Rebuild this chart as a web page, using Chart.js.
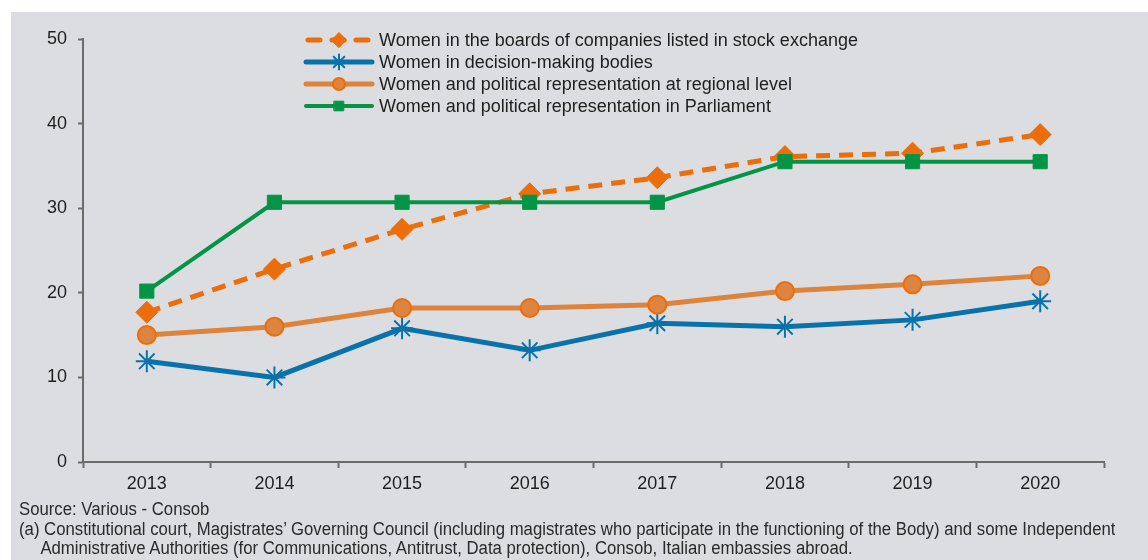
<!DOCTYPE html>
<html>
<head>
<meta charset="utf-8">
<script src="https://cdn.jsdelivr.net/npm/chart.js@4/dist/chart.umd.min.js"></script>
<style>
  html, body { margin: 0; padding: 0; background: #ffffff; }
  #panel {
    position: absolute; left: 11px; top: 12px; width: 1137px; height: 548px;
    background: #dcdde0; overflow: hidden;
  }
  #chart-wrap { position: absolute; left: -11px; top: -12px; width: 1148px; height: 500px; }
  #notes {
    position: absolute; left: 8px; top: 488px;
    font-family: "Liberation Sans", Arial, sans-serif;
    font-size: 18px; line-height: 19.5px; color: #2a2a2a;
    white-space: nowrap;
    transform: scaleX(0.93); transform-origin: 0 0;
  }
  #notes .indent { padding-left: 23px; }
</style>
</head>
<body>
<div id="panel">
  <div id="chart-wrap"><canvas id="women-chart" width="1148" height="500"></canvas></div>
  <div id="notes">
    <div>Source: Various - Consob</div>
    <div>(a) Constitutional court, Magistrates’ Governing Council (including magistrates who participate in the functioning of the Body) and some Independent</div>
    <div class="indent">Administrative Authorities (for Communications, Antitrust, Data protection), Consob, Italian embassies abroad.</div>
  </div>
</div>
<script>
const years = ["2013", "2014", "2015", "2016", "2017", "2018", "2019", "2020"];
const yTicks = [0, 10, 20, 30, 40, 50];

const boardsListed = [17.7, 22.8, 27.5, 31.7, 33.6, 36.1, 36.5, 38.7];
const decisionBodies = [11.9, 10.0, 15.8, 13.2, 16.4, 16.0, 16.8, 19.0];
const regionalLevel = [15.0, 16.0, 18.2, 18.2, 18.6, 20.2, 21.0, 22.0];
const parliament = [20.2, 30.7, 30.7, 30.7, 30.7, 35.5, 35.5, 35.5];

const seriesNames = [
  "Women in the boards of companies listed in stock exchange",
  "Women in decision-making bodies",
  "Women and political representation at regional level",
  "Women and political representation in Parliament"
];

const textFont = "'Liberation Sans', Arial, sans-serif";
const axisColor = "#6b6b6b";

// Legend drawn inside the plot, each entry a short line with its marker
const lineLegend = {
  id: "lineLegend",
  afterDraw(chart) {
    const ctx = chart.ctx;
    const x0 = 303, x1 = 375, textX = 379;
    const rows = [40, 62, 84, 106];
    chart.data.datasets.forEach((ds, i) => {
      const y = rows[i];
      ctx.save();
      ctx.strokeStyle = ds.borderColor;
      ctx.lineWidth = ds.borderWidth;
      ctx.lineCap = "round";
      ctx.setLineDash(ds.borderDash ? [12, 12] : []);
      ctx.lineDashOffset = ds.borderDash ? -2 : 0;
      ctx.beginPath();
      ctx.moveTo(x0 + 3, y);
      ctx.lineTo(x1 - 3, y);
      ctx.stroke();
      ctx.setLineDash([]);
      ctx.fillStyle = ds.pointBackgroundColor;
      ctx.strokeStyle = ds.pointBorderColor;
      ctx.lineWidth = ds.pointBorderWidth;
      Chart.helpers.drawPoint(ctx, {
        pointStyle: ds.pointStyle,
        radius: ds.pointRadius * 0.68,
        borderWidth: ds.pointBorderWidth,
        rotation: 0
      }, (x0 + x1) / 2, y);
      ctx.fillStyle = "#1e1e1e";
      ctx.font = "18px " + textFont;
      ctx.textBaseline = "middle";
      ctx.textAlign = "left";
      ctx.fillText(seriesNames[i], textX, y + 1);
      ctx.restore();
    });
  }
};

const ctx = document.getElementById("women-chart").getContext("2d");
const womenChart = new Chart(ctx, {
  type: "line",
  data: {
    labels: years,
    datasets: [
      {
        label: seriesNames[0],
        data: boardsListed,
        borderColor: "#ec6d0b",
        backgroundColor: "#ec6d0b",
        borderWidth: 5,
        borderDash: [14, 9],
        pointStyle: "rectRot",
        pointRadius: 11,
        pointBorderWidth: 1,
        pointBackgroundColor: "#ec6d0b",
        pointBorderColor: "#ec6d0b",
        order: 3
      },
      {
        label: seriesNames[1],
        data: decisionBodies,
        borderColor: "#0a72aa",
        backgroundColor: "#0a72aa",
        borderWidth: 5,
        pointStyle: "star",
        pointRadius: 11,
        pointBorderWidth: 2,
        pointBackgroundColor: "#0a72aa",
        pointBorderColor: "#0a72aa",
        order: 2
      },
      {
        label: seriesNames[2],
        data: regionalLevel,
        borderColor: "#de833b",
        backgroundColor: "#de833b",
        borderWidth: 5,
        pointStyle: "circle",
        pointRadius: 9,
        pointBorderWidth: 2,
        pointBackgroundColor: "#dd8440",
        pointBorderColor: "#ec6d0b",
        order: 1
      },
      {
        label: seriesNames[3],
        data: parliament,
        borderColor: "#049446",
        backgroundColor: "#049446",
        borderWidth: 4,
        pointStyle: "rect",
        pointRadius: 10,
        pointBorderWidth: 1,
        pointBackgroundColor: "#049446",
        pointBorderColor: "#049446",
        order: 0
      }
    ]
  },
  options: {
    responsive: false,
    animation: false,
    events: [],
    layout: { padding: { top: 39, right: 44, left: 0, bottom: 0 } },
    elements: { line: { tension: 0, borderCapStyle: "butt" } },
    plugins: {
      legend: { display: false },
      tooltip: { enabled: false }
    },
    scales: {
      x: {
        type: "category",
        offset: true,
        grid: {
          offset: true,
          drawOnChartArea: false,
          drawTicks: true,
          tickLength: 6,
          tickWidth: 2,
          tickColor: axisColor
        },
        border: { color: axisColor, width: 2 },
        ticks: {
          color: "#1e1e1e",
          padding: 5,
          maxRotation: 0,
          font: { size: 18, family: textFont }
        },
        afterFit(scale) { scale.height = 38; }
      },
      y: {
        min: 0,
        max: 50,
        afterBuildTicks(scale) { scale.ticks = yTicks.map(v => ({ value: v })); },
        grid: {
          drawOnChartArea: false,
          drawTicks: true,
          tickLength: 5,
          tickWidth: 2,
          tickColor: axisColor
        },
        border: { color: axisColor, width: 2 },
        ticks: {
          color: "#1e1e1e",
          padding: 11,
          font: { size: 18, family: textFont }
        },
        afterFit(scale) { scale.width = 83; }
      }
    }
  },
  plugins: [lineLegend]
});
</script>
</body>
</html>
